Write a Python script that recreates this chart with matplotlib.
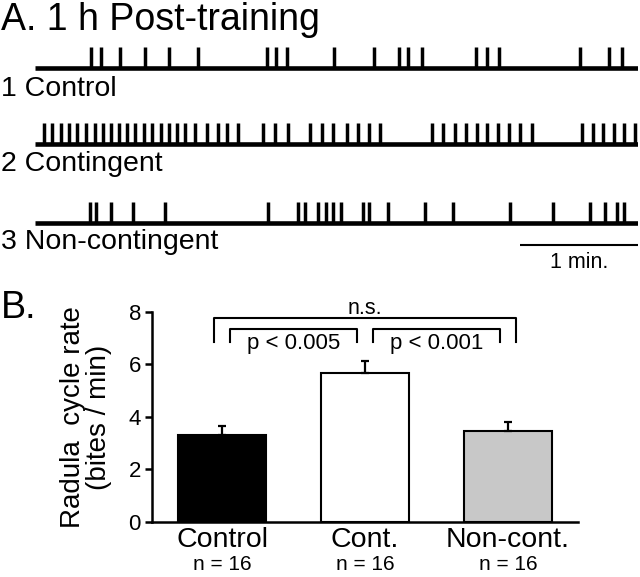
import matplotlib.pyplot as plt
import numpy as np

############################### data ###############################

# spike times (s) of the radula cycles, 1 h after training
control_spikes = [28.5, 33.6, 43.2, 55.9, 68.1, 82.9, 118.0, 122.5, 128.1, 152.0,
                  172.4, 185.1, 189.7, 196.8, 224.2, 229.8, 235.9, 277.1, 291.9, 298.5]
contingent_spikes = [4.6, 8.6, 13.2, 17.3, 21.4, 25.9, 30.5, 34.6, 38.6, 42.7, 46.8,
                     50.8, 55.4, 59.5, 64.1, 68.1, 72.2, 76.3, 81.4, 87.5, 93.1, 97.6,
                     103.2, 115.9, 122.0, 128.6, 139.8, 145.9, 151.5, 158.6, 164.2,
                     169.8, 175.4, 201.9, 207.5, 213.6, 219.2, 224.7, 229.8, 235.4,
                     241.0, 246.6, 252.7, 278.1, 283.7, 288.8, 294.4, 299.5, 305.1]
noncontingent_spikes = [28.0, 31.0, 38.6, 49.8, 66.1, 118.5, 133.7, 137.3, 143.9, 148.0,
                        151.5, 155.6, 166.8, 169.8, 179.5, 198.3, 212.5, 241.5, 263.4,
                        282.2, 289.8, 295.9, 299.5]
row_labels = ["1 Control", "2 Contingent", "3 Non-contingent"]
T_END = 306.6  # recording length (s)
SCALE = 60     # scale bar (s)

# bar chart
groups = ["Control", "Cont.", "Non-cont."]
n_labels = ["n = 16", "n = 16", "n = 16"]
means = [3.3, 5.68, 3.47]
sem = [0.36, 0.44, 0.34]
bar_colors = ["black", "white", "#c8c8c8"]
comparisons = [(0, 1, "p < 0.005"), (1, 2, "p < 0.001")]
ns_label = "n.s."

############################### figure ###############################

plt.rcParams['font.family'] = ['Liberation Sans', 'DejaVu Sans']
W, H = 640, 577
fig = plt.figure(figsize=(W/100, H/100), dpi=100)

def fx(px): # pixel -> figure fraction
    return px/W

def fy(py):
    return 1 - py/H

#--- A : raster of bites ---
fig.text(fx(1), fy(30), "A. 1 h Post-training", fontsize=27, va='baseline')

ax_r = fig.add_axes([fx(35), fy(280), fx(638) - fx(35), 280/H])
ax_r.set_xlim(0, T_END)
ax_r.set_ylim(280, 0)  # same unit as pixels, top down
ax_r.axis('off')

row_y = [68, 144, 223]
label_y = [96, 171, 249]
spike_h = 21
for spikes, y, lab, ly in zip([control_spikes, contingent_spikes, noncontingent_spikes],
                              row_y, row_labels, label_y):
    ax_r.hlines(y, 0, T_END, color='black', lw=3.3)
    ax_r.vlines(spikes, y - spike_h, y, color='black', lw=2.5)
    fig.text(fx(1), fy(ly), lab, fontsize=20.5, va='baseline')

# scale bar 1 min
ax_r.hlines(245, T_END - SCALE, T_END, color='black', lw=1.5)
ax_r.text(T_END - SCALE/2, 262, "1 min.", fontsize=15.5, ha='center', va='center')

#--- B : bite rate ---
fig.text(fx(1), fy(318), "B.", fontsize=27, va='baseline')

ax_b = fig.add_axes([fx(152), fy(521.7), fx(578) - fx(152), (521.7 - 311.7)/H])
x = np.arange(len(groups))
ax_b.bar(x, means, width=0.61, color=bar_colors, edgecolor='black', lw=1.5, zorder=2)
ax_b.errorbar(x, means, yerr=[np.zeros(len(sem)), sem], fmt='none', ecolor='black',
              elinewidth=1.6, capsize=3, capthick=1.6, zorder=3)
ax_b.set_xlim(-0.49, 2.49)
ax_b.set_ylim(0, 8)
ax_b.set_yticks([0, 2, 4, 6, 8])
ax_b.set_xticks(x)
ax_b.set_xticklabels(groups, fontsize=20.5)
ax_b.tick_params(axis='x', length=0, pad=4)
ax_b.tick_params(axis='y', length=5, width=1.8, labelsize=16, pad=3)
for s in ['top', 'right']:
    ax_b.spines[s].set_visible(False)
for s in ['left', 'bottom']:
    ax_b.spines[s].set_linewidth(1.8)

for xi, n in zip(x, n_labels):
    fig.text(fx(222 + 143*xi), fy(570), n, fontsize=15, ha='center', va='baseline')

fig.text(fx(86), fy(417), "Radula  cycle rate\n(bites / min)", fontsize=20,
         rotation=90, ha='center', va='center', multialignment='center', linespacing=1.0)

# significance brackets
leg_y = 6.86
for i, j, txt in comparisons:
    x0 = x[i] + 0.056
    x1 = x[j] - 0.056
    ax_b.plot([x0, x0, x1, x1], [leg_y, 7.33, 7.33, leg_y], color='black', lw=1.5,
              clip_on=False)
    ax_b.text((x0 + x1)/2, 6.8, txt, fontsize=16, ha='center', va='center')

x0 = x[0] - 0.056
x1 = x[-1] + 0.056
ax_b.plot([x0, x0, x1, x1], [leg_y, 7.75, 7.75, leg_y], color='black', lw=1.5, clip_on=False)
ax_b.text((x0 + x1)/2, 8.12, ns_label, fontsize=15.5, ha='center', va='center')

fig.savefig("out.png", dpi=100)
